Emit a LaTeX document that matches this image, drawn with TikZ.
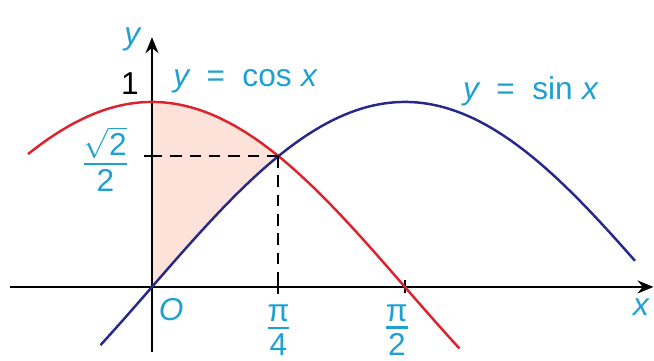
\documentclass[tikz,border=0pt]{standalone}
\usepackage{amsmath}
\usepackage{fontspec}
\setmainfont{Liberation Sans}
\usepackage{tikz}
\usetikzlibrary{calc,arrows.meta,positioning}
\definecolor{labelcyan}{RGB}{30,160,210}
\definecolor{cosred}{RGB}{220,35,45}
\definecolor{sinblue}{RGB}{40,40,140}
\definecolor{areapink}{RGB}{252,226,216}
\newcommand{\wsp}{\hspace{0.55em}}
\newcommand{\thickfrac}[2]{$\vcenter{\offinterlineskip\halign{\hfil##\hfil\cr
  #1\cr\noalign{\kern2.5pt\hrule height1.6pt\kern2.5pt}#2\cr}}$}

\begin{document}
\begin{tikzpicture}[x=3.22cm,y=3.7cm,>={Stealth[length=3.2mm,width=2.6mm]},
    font=\fontsize{18}{21}\selectfont,
    lbl/.style={text=labelcyan,inner sep=1pt},
    curve/.style={line width=1.4pt,smooth,samples=80}]
    \useasboundingbox (-0.944,-0.4) rectangle (3.118,1.551);
    \coordinate (O) at (0,0);
    \coordinate (P) at ({pi/4},{sqrt(2)/2});
    % shaded area between the curves
    \fill[areapink] (0,1) -- plot[domain=0:{pi/4},smooth,samples=30] (\x,{cos(\x r)})
      -- plot[domain={pi/4}:0,smooth,samples=30] (\x,{sin(\x r)}) -- cycle;
    % axes
    \draw[->,line width=1.1pt] (-0.88,0) -- (3.115,0) coordinate (xend);
    \draw[->,line width=1.1pt] (0,-0.35) -- (0,1.35) coordinate (yend);
    \draw[line width=1.1pt] ({pi/4},-0.04) -- ++(0,0.07) ({pi/2},-0.035) -- ++(0,0.07)
      (0,{sqrt(2)/2}) -- ++(-0.05,0);
    % curves
    \draw[curve,cosred,domain=-0.77:1.91] plot (\x,{cos(\x r)});
    \draw[curve,sinblue,domain=-0.32:3.0] plot (\x,{sin(\x r)});
    \draw[dashed,dash pattern=on 6.5pt off 4.5pt,line width=1.1pt] (P) -- (P |- O) (P) -- (P -| O);
    % labels
    \node[lbl,anchor=east] (ylab) at (-0.06,1.34) {\itshape y};
    \node[anchor=east,inner sep=1pt] (one) at (-0.07,1.1) {1};
    \node[lbl] (half) at (-0.29,0.69) {\thickfrac{$\sqrt{\text{2}}$}{2}};
    \node[lbl,anchor=north west] (olab) at (0.03,-0.05) {\itshape O};
    \node[lbl] (q4) at ({pi/4},-0.235) {\thickfrac{π}{4}};
    \node[lbl] (q2) at ({pi/2-0.05},-0.235) {\thickfrac{π}{2}};
    \node[lbl,anchor=north east] (xlab) at (3.1,-0.05) {\itshape x};
    \node[lbl,anchor=west] (coslab) at (0.12,1.11) {\itshape y\wsp\upshape=\wsp cos\hspace{0.3em}\itshape x};
    \node[lbl,anchor=west] (sinlab) at (1.92,1.06) {\itshape y\wsp\upshape=\wsp sin\hspace{0.3em}\itshape x};
\end{tikzpicture}
\end{document}
